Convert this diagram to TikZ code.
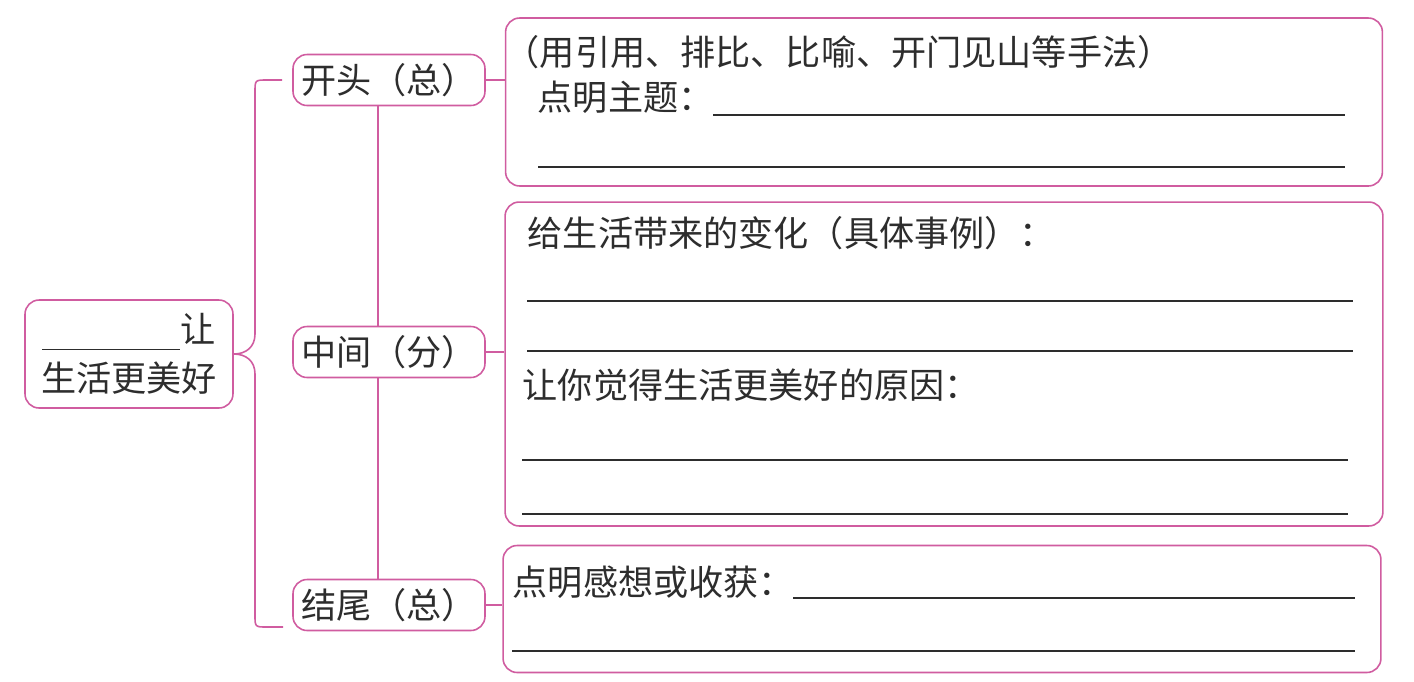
\documentclass[tikz,border=0pt]{standalone}
\usepackage{fontspec}
\setmainfont{Noto Sans CJK SC}
\definecolor{mapline}{RGB}{208,92,160}
\definecolor{inkgray}{RGB}{45,45,45}
\newcommand{\pgap}{\kern0pt}

\begin{document}
\begin{tikzpicture}[x=0.02cm, y=-0.02cm, line width=0.9pt,
  every node/.style={font=\fontsize{20}{28}\selectfont, text=inkgray},
  box/.style={draw=mapline, rounded corners=8pt, fill=white, inner sep=0pt},
  part/.style={box, minimum width=3.84cm, minimum height=1.02cm},
  hint/.style={anchor=west, inner sep=0pt},
  blank/.style={draw=inkgray, line width=0.7pt}]
  \useasboundingbox (0,0) rectangle (1414,681);

  % main theme on the left
  \node[box, minimum width=4.16cm, minimum height=2.16cm, align=center] (theme) at (129,354)
    {\rule[-4pt]{2.76cm}{0.6pt}让\\生活更美好};

  % three parts
  \node[part] (kaitou)    at (389,80)  {开头\pgap（\pgap 总\pgap）};
  \node[part] (zhongjian) at (389,352) {中间\pgap（\pgap 分\pgap）};
  \node[part] (jiewei)    at (389,605) {结尾\pgap（\pgap 总\pgap）};

  % the boxes to fill in
  \node[box, minimum width=17.54cm, minimum height=3.36cm] (detail1) at (944,102) {};
  \node[box, minimum width=17.56cm, minimum height=6.48cm] (detail2) at (944,364) {};
  \node[box, minimum width=17.56cm, minimum height=2.54cm] (detail3) at (942,609) {};

  % brace from the theme
  \coordinate (brtop) at ([xshift=-0.2cm]kaitou.west);
  \coordinate (brbot) at (283,627);
  \draw[mapline] (brtop) -- (267,80) .. controls (255,80) .. (255,92) -- (255,334)
    .. controls (255,347) and (246,354) .. (theme.east)
    .. controls (246,354) and (255,361) .. (255,374) -- (255,615)
    .. controls (255,627) .. (267,627) -- (brbot);

  % links between the parts
  \draw[mapline] ([xshift=-0.22cm]kaitou.south) -- ([xshift=-0.22cm]zhongjian.north);
  \draw[mapline] ([xshift=-0.22cm]zhongjian.south) -- ([xshift=-0.22cm]jiewei.north);
  \draw[mapline] (kaitou) -- (kaitou -| detail1.west);
  \draw[mapline] (zhongjian) -- (zhongjian -| detail2.west);
  \draw[mapline] (jiewei) -- (jiewei -| detail3.west);

  % texts
  \node[hint] (intro)  at (504,52)  {（\pgap 用引用、排比、比喻、开门见山等手法\pgap）};
  \node[hint] (topic)  at (537,97)  {点明主题：};
  \node[hint] (change) at (527,233) {给生活带来的变化\pgap（\pgap 具体事例\pgap）：};
  \node[hint] (reason) at (522,385) {让你觉得生活更美好的原因：};
  \node[hint] (gain)   at (512,582) {点明感想或收获：};

  % lines to write on
  \draw[blank] (713,115) -- (1345,115);
  \draw[blank] (538,167) -- (1345,167);
  \draw[blank] (527,301) -- (1353,301);
  \draw[blank] (527,351) -- (1353,351);
  \draw[blank] (522,460) -- (1348,460);
  \draw[blank] (522,514) -- (1348,514);
  \draw[blank] (793,598) -- (1355,598);
  \draw[blank] (512,651) -- (1355,651);
\end{tikzpicture}
\end{document}
